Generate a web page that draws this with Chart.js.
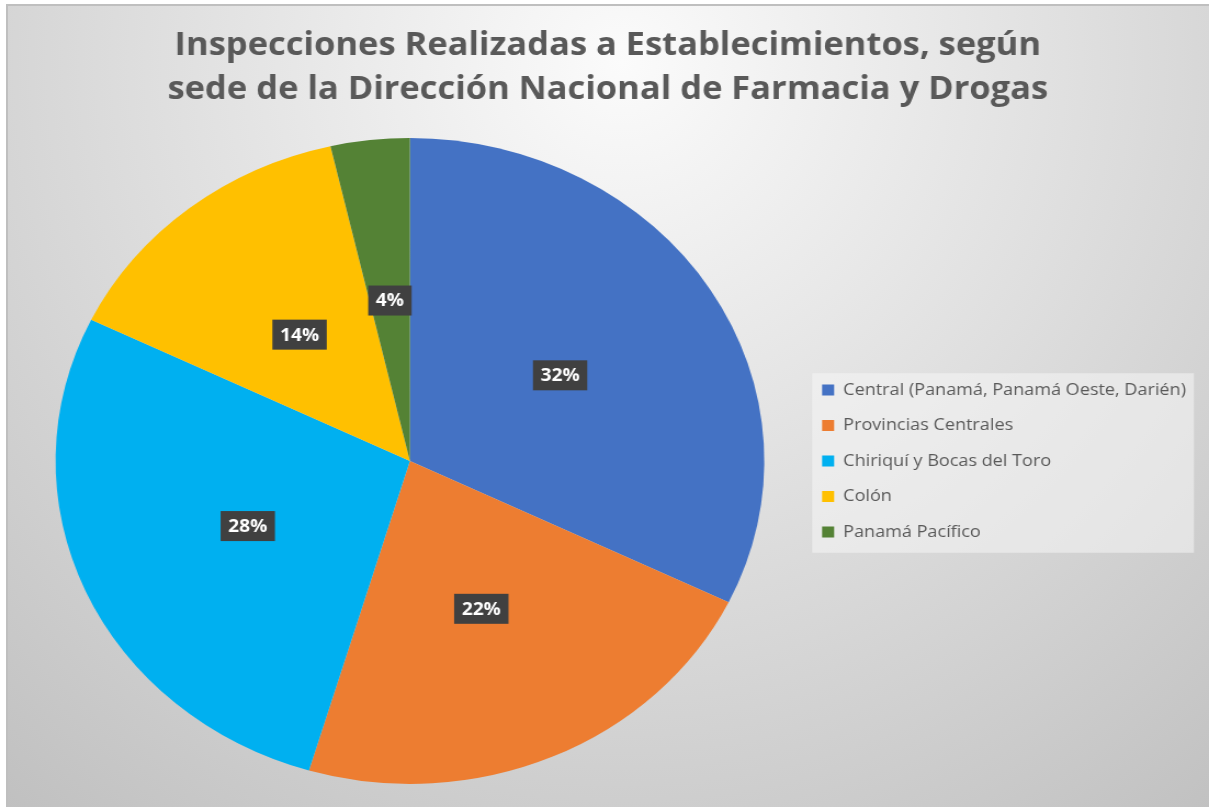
<!DOCTYPE html>
<html>
<head>
<meta charset="utf-8">
<script src="https://cdn.jsdelivr.net/npm/chart.js@4.4.1/dist/chart.umd.min.js"></script>
<style>
html,body{margin:0;padding:0;background:#fff;width:1209px;height:807px;overflow:hidden;}
#frame{position:absolute;left:6px;top:4px;width:1203px;height:803px;box-sizing:border-box;
  border-left:2px solid #bfbfbf;border-top:2px solid #bfbfbf;
  background:radial-gradient(circle 1000px at 614px 56px,#fbfbfb 0%,#bebebe 100%);}
#wrap{position:absolute;left:0;top:0;width:1102px;height:807px;transform:scaleX(1.0971);transform-origin:0 0;}
canvas{display:block;}
</style>
</head>
<body>
<div id="frame"></div>
<div id="wrap"><canvas id="c" width="1102" height="807"></canvas></div>
<script>
// ---- data ----
const titleLines = [
  'Inspecciones Realizadas a Establecimientos, según',
  'sede de la Dirección Nacional de Farmacia y Drogas'
];
const categories = [
  'Central (Panamá, Panamá Oeste, Darién)',
  'Provincias Centrales',
  'Chiriquí y Bocas del Toro',
  'Colón',
  'Panamá Pacífico'
];
const shares = [32.2, 22.4, 27.6, 14.2, 3.6];
const colors = ['#4472C4', '#ED7D31', '#00B0F0', '#FFC000', '#548235'];

// ---- styling helpers ----
const SX = 1.0971;
const FAMILY = '"Open Sans", "Noto Sans", sans-serif';
function fitSize(text, weight, targetPx) {
  const c = document.createElement('canvas').getContext('2d');
  c.font = weight + ' 100px ' + FAMILY;
  return 100 * targetPx / c.measureText(text).width;
}
const titleSize = (fitSize(titleLines[0], 'bold', 864 / SX) + fitSize(titleLines[1], 'bold', 884 / SX)) / 2;
const legendSize = fitSize(categories[0], 'normal', 343 / SX);
const labelSize = fitSize('14%', 'bold', 39 / SX);

const legendBg = {
  id: 'legendBg',
  beforeDraw(chart) {
    const hb = chart.legend && chart.legend.legendHitBoxes;
    if (!hb || !hb.length) return;
    const ctx = chart.ctx;
    const first = hb[0], last = hb[hb.length - 1];
    const x = first.left - 9;
    const y = first.top - 8.5;
    const h = (last.top + last.height + 12.5) - y;
    ctx.save();
    ctx.fillStyle = 'rgba(245,245,245,0.55)';
    ctx.fillRect(x, y, 348, h);
    ctx.restore();
  }
};

const pctLabels = {
  id: 'pctLabels',
  afterDatasetsDraw(chart) {
    const ctx = chart.ctx;
    const meta = chart.getDatasetMeta(0);
    const data = chart.data.datasets[0].data;
    const total = data.reduce((a, b) => a + b, 0);
    ctx.save();
    ctx.font = 'bold ' + labelSize + 'px ' + FAMILY;
    ctx.textAlign = 'center';
    ctx.textBaseline = 'middle';
    meta.data.forEach((arc, i) => {
      const p = arc.tooltipPosition();
      const t = Math.round(data[i] / total * 100) + '%';
      const tw = ctx.measureText(t).width;
      const bw = tw + 14, bh = 30;
      ctx.fillStyle = '#404040';
      ctx.fillRect(p.x - bw / 2, p.y - bh / 2, bw, bh);
      ctx.fillStyle = '#ffffff';
      ctx.fillText(t, p.x, p.y + 1);
    });
    ctx.restore();
  }
};

new Chart(document.getElementById('c'), {
  type: 'pie',
  data: {
    labels: categories,
    datasets: [{ data: shares, backgroundColor: colors, borderWidth: 0 }]
  },
  options: {
    responsive: false,
    animation: false,
    devicePixelRatio: 1,
    layout: { padding: { left: 17, right: 11, top: 0, bottom: 23 } },
    plugins: {
      title: {
        display: true,
        text: titleLines,
        color: '#595959',
        font: { family: FAMILY, size: titleSize, weight: 'bold', lineHeight: 44 / titleSize },
        padding: { top: 24, bottom: 26 }
      },
      legend: {
        position: 'right',
        fullSize: false,
        align: 'center',
        labels: {
          boxWidth: 11,
          boxHeight: 11,
          padding: 35.5 - legendSize,
          color: '#595959',
          font: { family: FAMILY, size: legendSize }
        }
      },
      tooltip: { enabled: false }
    }
  },
  plugins: [legendBg, pctLabels]
});
</script>
</body>
</html>
